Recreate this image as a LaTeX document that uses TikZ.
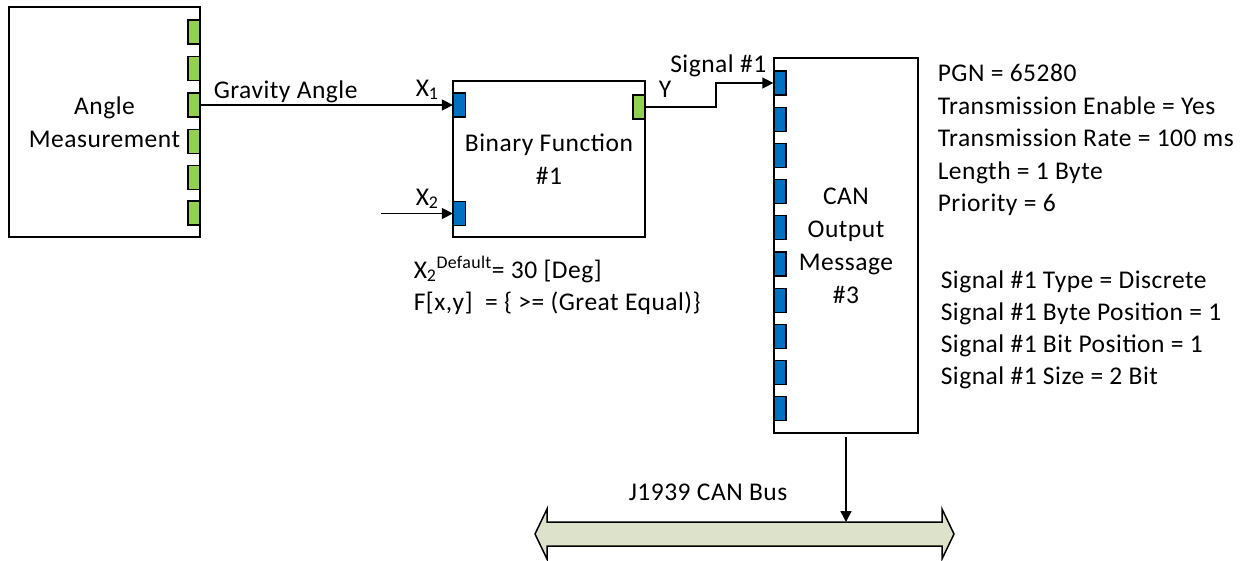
\documentclass[tikz,border=0pt]{standalone}
\usepackage{fontspec}
\setmainfont{Carlito}[LetterSpace=2]
\usetikzlibrary{arrows.meta}
\definecolor{portgreen}{HTML}{92D050}
\definecolor{portblue}{HTML}{0070C0}
\definecolor{busfill}{HTML}{DDE2CB}
\begin{document}
\begin{tikzpicture}[x=1pt,y=-1pt,
  font=\fontsize{25.5}{33}\selectfont,
  line width=1.5pt,
  block/.style={draw, line width=1.5pt, align=center, inner sep=0pt},
  gport/.style={draw, fill=portgreen, minimum width=12pt, minimum height=24pt, inner sep=0pt, line width=1.3pt},
  bport/.style={draw, fill=portblue, minimum width=12pt, minimum height=24pt, inner sep=0pt, line width=1.3pt},
  wire/.style={line width=1.5pt, -{Triangle[length=11pt,width=11pt]}},
  lbl/.style={anchor=base west, inner sep=0pt}]
\useasboundingbox (0,0) rectangle (1247,560);

% Angle measurement block
\node[block, minimum width=191pt, minimum height=230pt] (am) at (104.5,122) {Angle\\Measurement};
\foreach \y [count=\i] in {32,68.5,105,141.5,177.5,213}
  \node[gport] (amp\i) at (194,\y) {};

% Binary function block
\node[block, minimum width=192pt, minimum height=156pt] (bf) at (549,159) {Binary Function\\\#1};
\node[bport] (bfx1) at (459.5,105) {};
\node[bport] (bfx2) at (459.5,213.5) {};
\node[gport] (bfy) at (639,107) {};

% CAN output message block
\node[block, minimum width=144pt, minimum height=375pt] (can) at (846,245.5) {CAN\\Output\\Message\\\#3};
\foreach \i in {0,...,9}
  \node[bport] (canp\i) at (780,{83+36.2*\i}) {};

% Bus
\draw[fill=busfill, line width=1.5pt] (535,534) -- (547,509) -- (547,522) -- (942,522) -- (942,509)
  -- (954,534) -- (942,559) -- (942,546) -- (547,546) -- (547,559) -- cycle;
\coordinate (bustop) at (846,522);

% Connectors
\coordinate (x2in) at (381,213.5);
\coordinate (bend) at (716,0);
\draw[wire] (amp3.east) -- (bfx1.west);
\draw[wire] (x2in) -- (bfx2.west);
\draw[wire] (bfy.east) -- (bfy.east -| bend) |- (canp0.west);
\draw[wire, shorten <=3pt] (can.south) -- (bustop);

% Labels
\node[lbl] (ga) at (213,98) {Gravity Angle};
\node[lbl] (x1) at (415,96) {X\textsubscript{1}};
\node[lbl] (x2) at (415,205) {X\textsubscript{2}};
\node[lbl] (ylab) at (658,97) {Y};
\node[anchor=base east, inner sep=0pt] (sig) at (767,72) {Signal \#1};
\node[lbl] (buslbl) at (628,500) {J1939 CAN Bus};
\node[lbl] (def) at (413,278) {X\textsubscript{2}\textsuperscript{Default}= 30 [Deg]};
\node[lbl] (fxy) at (413,310) {F[x,y]~ = \{ >= (Great Equal)\}};

\foreach \t [count=\i] in {PGN = 65280, Transmission Enable = Yes, Transmission Rate = 100 ms, Length = 1 Byte, Priority = 6}
  \node[lbl] (p\i) at (937,{81.7+32.5*(\i-1)}) {\t};
\foreach \t [count=\i] in {Signal \#1 Type = Discrete, Signal \#1 Byte Position = 1, Signal \#1 Bit Position = 1, Signal \#1 Size = 2 Bit}
  \node[lbl] (s\i) at (940,{288+32.3*(\i-1)}) {\t};
\end{tikzpicture}
\end{document}
